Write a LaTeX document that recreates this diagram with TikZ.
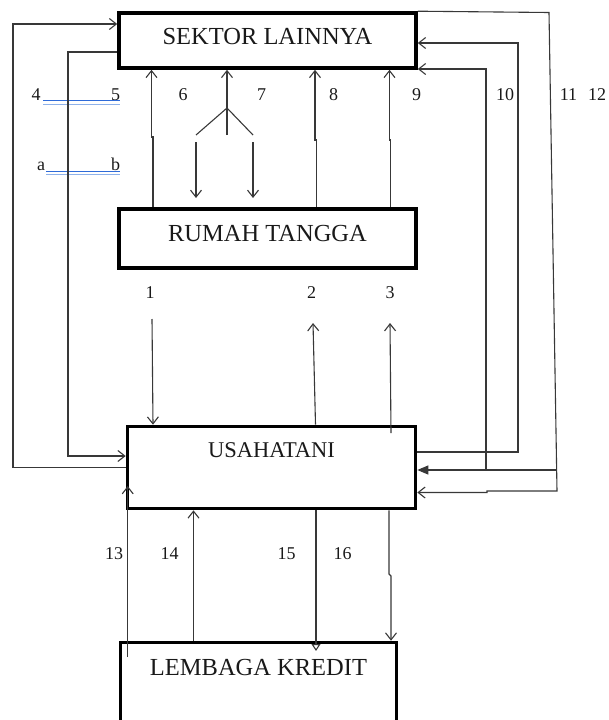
\documentclass[tikz,border=0pt]{standalone}
\usepackage{fontspec}
\setmainfont{Liberation Serif}
\usetikzlibrary{arrows.meta,calc}
\definecolor{ulblue}{HTML}{2F6BD8}
\definecolor{ullight}{HTML}{8FB2EA}
\begin{document}
\begin{tikzpicture}[x=1pt,y=-1pt,
  box/.style={draw=black, line width=3.6pt, rectangle, inner sep=0pt, text=black!90, font=\fontsize{24.5}{28}\selectfont},
  conn/.style={draw=black!78, line width=1.1pt},
  arr/.style={conn, -{Straight Barb[length=7pt,width=11pt]}},
  farr/.style={conn, -{Triangle[length=11pt,width=9pt]}},
  tarr/.style={conn, -{Triangle[open,length=7pt,width=9pt]}},
  num/.style={font=\fontsize{18}{20}\selectfont, inner sep=0pt, anchor=base, text=black!90},
  ulA/.style={draw=ulblue, line width=1pt},
  ulB/.style={draw=ullight, line width=1pt},
]
\useasboundingbox (0,0) rectangle (609,720);

% boxes
\node[box, minimum width=297pt, minimum height=55pt, text depth=8pt] (sektor) at (267.5,40.5) {SEKTOR LAINNYA};
\node[box, minimum width=297pt, minimum height=59pt, text depth=10pt] (rumah) at (267.5,238.5) {RUMAH TANGGA};
\node[box, minimum width=288pt, minimum height=82pt, text depth=35pt, font=\fontsize{22.5}{26}\selectfont] (usaha) at (271.5,467.5) {USAHATANI};
\node[box, minimum width=276pt, minimum height=97pt, text depth=48pt] (lembaga) at (258.5,691) {LEMBAGA KREDIT};

% labels
\node[num] (n4) at (36,100) {4};
\node[num] (n5) at (115.5,100) {5};
\node[num] (na) at (41,170) {a};
\node[num] (nb) at (115.5,170) {b};
\node[num] (n6) at (183,100) {6};
\node[num] (n7) at (261.5,100) {7};
\node[num] (n8) at (333.5,100) {8};
\node[num] (n9) at (416.5,100) {9};
\node[num] (n10) at (505,100) {10};
\node[num] (n11) at (568.5,100) {11};
\node[num] (n12) at (597,100) {12};
\node[num] (n1) at (150,298) {1};
\node[num] (n2) at (311.5,298) {2};
\node[num] (n3) at (390,298) {3};
\node[num] (n13) at (114,559) {13};
\node[num] (n14) at (169.5,559) {14};
\node[num] (n15) at (286.5,559) {15};
\node[num] (n16) at (342.5,559) {16};

% blue double underlines
\draw[ulA] (43,100.8) -- (120,100.8);
\draw[ulB] (43,104) -- (120,104);
\draw[ulA] (46,171.2) -- (120,171.2);
\draw[ulB] (46,174.4) -- (120,174.4);

% coordinates
\coordinate (l1a) at (13,467.5);
\coordinate (l1b) at (13,24);
\coordinate (l2a) at (68,52);
\coordinate (l2b) at (68,456);
\coordinate (a6j) at (153,137);
\coordinate (a6k) at (151.5,137);
\coordinate (a8j) at (316.5,140);
\coordinate (a8k) at (315,140);
\coordinate (a9j) at (390.5,140);
\coordinate (a9k) at (389.5,140);
\coordinate (f0) at (227,108);
\coordinate (fc) at (227,135);
\coordinate (fl) at (196,135);
\coordinate (fr) at (253,135);
\coordinate (dl1) at (196,142);
\coordinate (dl2) at (196,198);
\coordinate (dr1) at (253,142);
\coordinate (dr2) at (253,198);
\coordinate (a1s) at (152,319);
\coordinate (a1x) at (153,0);
\coordinate (a2x) at (315.5,0);
\coordinate (a2t) at (313,323);
\coordinate (a3s) at (391,433);
\coordinate (a3t) at (390,323);
\coordinate (r10a) at (518,452);
\coordinate (r10b) at (518,43);
\coordinate (r9a) at (486,470);
\coordinate (r9b) at (486,69);
\coordinate (r11a) at (549,12.5);
\coordinate (r11b) at (557,491);
\coordinate (r11c) at (487,491);
\coordinate (r11d) at (487,492.5);
\coordinate (r12a) at (556.6,470);
\coordinate (a13s) at (127.7,657);
\coordinate (a13t) at (127.7,486);
\coordinate (a14x) at (193.5,0);
\coordinate (a15x) at (316,0);
\coordinate (a15t) at (316,651);
\coordinate (a16j) at (389,574);
\coordinate (a16k) at (391,576);

% left loops
\draw[arr] (usaha.west) -- (l1a) -- (l1b) -- (sektor.north west |- l1b);
\draw[arr] (sektor.west |- l2a) -- (l2a) -- (l2b) -- (usaha.west |- l2b);

% rumah tangga -> sektor lainnya
\draw[arr] (rumah.north -| a6j) -- (a6j) -- (a6k) -- (sektor.south -| a6k);
\draw[arr] (rumah.north -| a8j) -- (a8j) -- (a8k) -- (sektor.south -| a8k);
\draw[arr] (rumah.north -| a9j) -- (a9j) -- (a9k) -- (sektor.south -| a9k);

% fork 7
\draw[arr] (fc) -- (sektor.south -| fc);
\draw[conn] (fl) -- (f0) -- (fr);
\draw[arr] (dl1) -- (dl2);
\draw[arr] (dr1) -- (dr2);

% rumah tangga <-> usahatani
\draw[arr] (a1s) -- (usaha.north -| a1x);
\draw[arr] (usaha.north -| a2x) -- (a2t);
\draw[arr] (a3s) -- (a3t);

% right loops
\draw[arr] (usaha.east |- r10a) -- (r10a) -- (r10b) -- (sektor.east |- r10b);
\draw[arr] (r9a) -- (r9b) -- (sektor.east |- r9b);
\draw[arr] (sektor.north east) -- (r11a) -- (r11b) -- (r11c) -- (r11d) -- (usaha.east |- r11d);
\draw[farr] (r12a) -- (usaha.east |- r12a);

% usahatani <-> lembaga kredit
\draw[arr] (a13s) -- (a13t);
\draw[arr] (lembaga.north -| a14x) -- (usaha.south -| a14x);
\draw[tarr] (usaha.south -| a15x) -- (a15t);
\draw[arr] (usaha.south -| a16j) -- (a16j) -- (a16k) -- (lembaga.north -| a16k);
\end{tikzpicture}
\end{document}
